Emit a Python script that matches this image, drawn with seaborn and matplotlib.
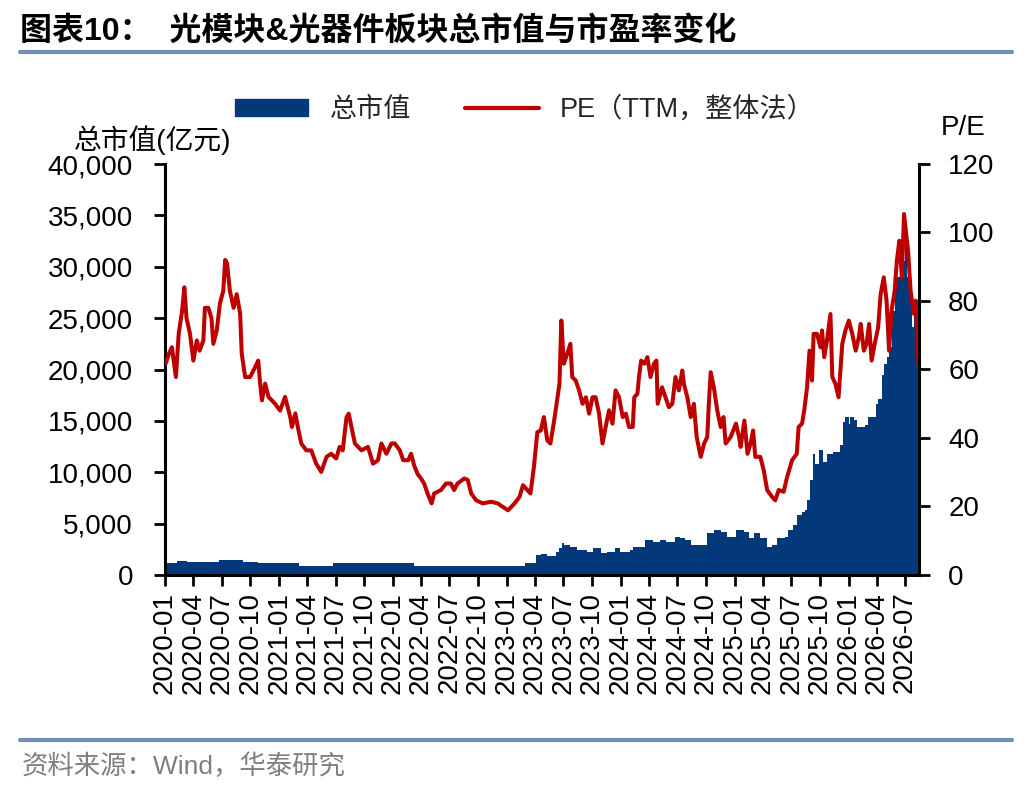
import matplotlib
matplotlib.use("Agg")
import numpy as np
import pandas as pd
import matplotlib.pyplot as plt
import matplotlib.dates as mdates
from matplotlib.patches import Patch
from matplotlib.lines import Line2D
from matplotlib.ticker import MultipleLocator, FuncFormatter
import seaborn as sns

# ---------------- data ----------------
pe_dates = [
    "2020-01-03", "2020-01-14", "2020-01-23", "2020-02-05", "2020-02-14", "2020-02-25", "2020-03-03",
    "2020-03-10", "2020-03-21", "2020-04-01", "2020-04-12", "2020-04-21", "2020-05-03", "2020-05-08",
    "2020-05-19", "2020-05-29", "2020-06-04", "2020-06-15", "2020-06-25", "2020-07-06", "2020-07-12",
    "2020-07-18", "2020-07-27", "2020-08-08", "2020-08-18", "2020-08-29", "2020-09-03", "2020-09-14",
    "2020-09-30", "2020-10-16", "2020-10-26", "2020-11-01", "2020-11-07", "2020-11-17", "2020-11-28",
    "2020-12-19", "2021-01-04", "2021-01-20", "2021-02-06", "2021-02-11", "2021-02-22", "2021-03-02",
    "2021-03-13", "2021-03-29", "2021-04-14", "2021-04-30", "2021-05-16", "2021-06-02", "2021-06-17",
    "2021-07-03", "2021-07-14", "2021-07-24", "2021-08-05", "2021-08-12", "2021-08-21", "2021-09-01",
    "2021-09-22", "2021-10-13", "2021-10-29", "2021-11-14", "2021-11-25", "2021-12-11", "2021-12-27",
    "2022-01-07", "2022-01-23", "2022-02-03", "2022-02-19", "2022-02-28", "2022-03-10", "2022-03-21",
    "2022-04-01", "2022-04-11", "2022-04-22", "2022-05-05", "2022-05-13", "2022-06-04", "2022-06-20",
    "2022-07-06", "2022-07-16", "2022-07-27", "2022-08-18", "2022-08-29", "2022-09-09", "2022-09-25",
    "2022-10-16", "2022-11-12", "2022-12-03", "2022-12-19", "2023-01-05", "2023-01-26", "2023-02-11",
    "2023-02-22", "2023-03-08", "2023-03-18", "2023-03-29", "2023-04-09", "2023-04-20", "2023-04-30",
    "2023-05-11", "2023-05-21", "2023-06-02", "2023-06-13", "2023-06-19", "2023-06-25", "2023-07-03",
    "2023-07-14", "2023-07-24", "2023-07-30", "2023-08-10", "2023-08-21", "2023-09-01", "2023-09-12",
    "2023-09-22", "2023-10-03", "2023-10-13", "2023-10-24", "2023-11-04", "2023-11-14", "2023-11-25",
    "2023-12-06", "2023-12-16", "2023-12-27", "2024-01-08", "2024-01-18", "2024-01-28", "2024-02-09",
    "2024-02-14", "2024-02-24", "2024-02-29", "2024-03-07", "2024-03-18", "2024-03-27", "2024-04-06",
    "2024-04-17", "2024-04-25", "2024-04-29", "2024-05-13", "2024-05-24", "2024-06-04", "2024-06-15",
    "2024-06-25", "2024-07-06", "2024-07-17", "2024-07-22", "2024-08-02", "2024-08-13", "2024-08-23",
    "2024-09-01", "2024-09-14", "2024-09-25", "2024-10-05", "2024-10-10", "2024-10-16", "2024-10-26",
    "2024-11-06", "2024-11-17", "2024-11-26", "2024-12-03", "2024-12-19", "2025-01-05", "2025-01-15",
    "2025-01-20", "2025-02-01", "2025-02-11", "2025-02-21", "2025-03-01", "2025-03-08", "2025-03-24",
    "2025-04-04", "2025-04-15", "2025-05-01", "2025-05-11", "2025-05-22", "2025-06-07", "2025-06-18",
    "2025-07-04", "2025-07-19", "2025-07-25", "2025-08-05", "2025-08-12", "2025-08-21", "2025-08-29",
    "2025-09-06", "2025-09-11", "2025-09-22", "2025-10-03", "2025-10-08", "2025-10-15", "2025-10-24",
    "2025-11-04", "2025-11-10", "2025-11-20", "2025-11-30", "2025-12-06", "2025-12-12", "2025-12-22",
    "2026-01-02", "2026-01-13", "2026-01-24", "2026-02-03", "2026-02-09", "2026-02-19", "2026-02-28",
    "2026-03-08", "2026-03-16", "2026-03-26", "2026-04-06", "2026-04-14", "2026-04-24", "2026-05-03",
    "2026-05-11", "2026-05-19", "2026-05-29", "2026-06-05", "2026-06-13", "2026-06-21", "2026-06-28",
    "2026-07-06", "2026-07-11", "2026-07-19", "2026-07-30", "2026-08-05", "2026-08-13",
]
pe_values = [
    61.7, 64.7, 66.5, 57.8, 70.5, 77.2, 84.0,
    75.0, 70.5, 62.6, 68.5, 65.5, 68.5, 78.0,
    78.0, 75.0, 67.5, 71.4, 79.2, 83.0, 92.0,
    91.0, 83.0, 78.0, 82.0, 76.3, 64.7, 57.8,
    57.8, 60.7, 62.6, 55.9, 51.0, 55.9, 52.0,
    50.0, 48.0, 52.0, 46.0, 43.2, 47.2, 43.2,
    38.4, 36.4, 36.4, 32.5, 30.1, 34.5, 35.4,
    34.0, 37.4, 36.4, 46.0, 47.1, 43.2, 38.4,
    36.4, 37.4, 32.5, 33.5, 38.4, 35.4, 38.4,
    38.4, 36.4, 33.5, 33.5, 35.4, 32.0, 29.5,
    28.2, 26.7, 23.8, 20.9, 23.8, 24.8, 26.7,
    26.7, 24.8, 26.7, 28.2, 27.7, 23.8, 21.8,
    20.9, 21.4, 20.9, 19.9, 18.9, 20.9, 22.8,
    26.2, 24.8, 23.8, 31.5, 41.7, 42.2, 46.1,
    39.3, 38.4, 45.1, 51.9, 55.8, 74.3, 61.7,
    64.6, 67.5, 57.8, 56.8, 53.9, 50.0, 51.9,
    47.1, 51.9, 51.9, 47.1, 38.4, 43.2, 48.1,
    44.2, 53.9, 51.9, 46.1, 47.1, 43.2, 43.2,
    51.9, 52.9, 57.8, 62.6, 61.7, 63.6, 57.8,
    61.7, 62.6, 50.0, 54.8, 51.9, 49.0, 50.0,
    57.8, 53.9, 59.7, 55.8, 51.9, 46.1, 50.0,
    40.3, 34.5, 38.4, 40.3, 50.0, 59.2, 54.8,
    48.1, 43.2, 46.1, 38.4, 40.3, 44.2, 40.3,
    37.4, 45.1, 35.4, 38.4, 42.2, 34.5, 34.5,
    30.6, 24.8, 22.8, 21.8, 24.8, 24.3, 28.6,
    33.5, 35.4, 43.2, 44.2, 48.1, 54.8, 65.5,
    56.8, 70.4, 70.4, 66.5, 71.4, 63.6, 68.5,
    76.2, 57.8, 55.8, 51.9, 59.7, 67.5, 71.4,
    74.3, 70.4, 65.5, 69.4, 73.3, 65.5, 67.5,
    73.3, 62.6, 67.5, 72.3, 82.0, 86.9, 80.1,
    65.5, 77.2, 83.0, 91.8, 97.6, 86.9, 105.4,
    98.6, 94.7, 83.0, 76.2, 80.1, 61.7,
]

cap_dates = [
    "2020-01-02", "2020-02-10", "2020-03-12", "2020-06-22", "2020-09-08", "2020-10-26", "2021-03-07",
    "2021-06-22", "2022-03-10", "2023-02-27", "2023-04-04", "2023-04-20", "2023-05-11", "2023-06-07",
    "2023-06-17", "2023-06-27", "2023-07-05", "2023-07-24", "2023-08-15", "2023-09-16", "2023-10-06",
    "2023-10-29", "2023-11-19", "2023-12-15", "2023-12-31", "2024-02-01", "2024-02-10", "2024-03-18",
    "2024-04-13", "2024-05-05", "2024-05-26", "2024-06-25", "2024-07-11", "2024-07-27", "2024-08-13",
    "2024-10-05", "2024-10-25", "2024-11-17", "2024-12-08", "2025-01-05", "2025-01-30", "2025-02-15",
    "2025-03-03", "2025-03-24", "2025-04-15", "2025-05-01", "2025-05-17", "2025-06-12", "2025-06-22",
    "2025-07-08", "2025-07-19", "2025-08-05", "2025-08-15", "2025-08-21", "2025-08-31", "2025-09-08",
    "2025-09-16", "2025-09-27", "2025-10-12", "2025-10-23", "2025-11-13", "2025-12-06", "2025-12-14",
    "2025-12-22", "2026-01-02", "2026-01-07", "2026-01-18", "2026-01-28", "2026-02-24", "2026-03-06",
    "2026-03-30", "2026-04-06", "2026-04-17", "2026-04-24", "2026-05-03", "2026-05-11", "2026-05-19",
    "2026-05-24", "2026-05-29", "2026-06-06", "2026-06-14", "2026-06-22", "2026-07-01", "2026-07-08",
    "2026-07-14", "2026-07-22", "2026-07-30", "2026-08-07", "2026-08-14",
]
cap_values = [
    1140, 1390, 1235, 1460, 1235, 1140, 875,
    1140, 875, 1190, 1945, 2040, 1850, 2270,
    2600, 3080, 2900, 2750, 2430, 2260, 2590,
    2100, 2260, 2590, 2260, 2430, 2750, 3400,
    3240, 3450, 3240, 3720, 3560, 3400, 2910,
    4050, 4370, 4210, 3720, 4370, 4210, 3560,
    4050, 3560, 2750, 2910, 3560, 3720, 4370,
    4860, 5830, 6150, 6310, 7280, 9220, 11800,
    10850, 12140, 11000, 11800, 11970, 12620, 14890,
    15370, 14730, 15370, 15050, 14400, 14570, 15370,
    16670, 17160, 19420, 20560, 21200, 22170, 25080,
    25730, 28320, 28970, 29620, 30590, 32200, 28970,
    27350, 24110, 25730, 24760, 24760,
]

legend_labels = ["总市值", "PE（TTM，整体法）"]
title_text = "图表10：  光模块&光器件板块总市值与市盈率变化"
left_axis_title = "总市值(亿元)"
right_axis_title = "P/E"
source_text = "资料来源：Wind，华泰研究"

BLUE = "#03387A"
RED = "#BE0000"
RULE = "#6F8EB8"

# ---------------- style ----------------
sns.set_theme(style="white")
FONTS = ["Liberation Sans", "Noto Sans CJK SC", "DejaVu Sans"]
plt.rcParams["font.family"] = FONTS
plt.rcParams["axes.unicode_minus"] = False

W, H = 1036, 792
fig = plt.figure(figsize=(W / 100, H / 100), dpi=100)
fig.patch.set_facecolor("white")

L, R, T, B = 165, 919, 164, 575
ax = fig.add_axes([L / W, 1 - B / H, (R - L) / W, (B - T) / H])
ax2 = ax.twinx()

pe_df = pd.DataFrame({"date": pd.to_datetime(pe_dates), "pe": pe_values})
cap_df = pd.DataFrame({"date": pd.to_datetime(cap_dates), "cap": cap_values})

ax.fill_between(cap_df["date"], 0, cap_df["cap"], step="post", color=BLUE, linewidth=0)
sns.lineplot(data=pe_df, x="date", y="pe", ax=ax2, color=RED, linewidth=2.9)

ax.set_xlim(pd.Timestamp("2020-01-01"), pd.Timestamp("2026-08-15"))
ax.set_ylim(0, 40000)
ax2.set_ylim(0, 120)
ax.yaxis.set_major_locator(MultipleLocator(5000))
ax.yaxis.set_major_formatter(FuncFormatter(lambda v, p: f"{int(v):,}"))
ax2.yaxis.set_major_locator(MultipleLocator(20))
ax.xaxis.set_major_locator(mdates.MonthLocator(bymonth=[1, 4, 7, 10]))
ax.xaxis.set_major_formatter(mdates.DateFormatter("%Y-%m"))

for a in (ax, ax2):
    a.set_xlabel("")
    a.set_ylabel("")
    a.grid(False)
    a.set_facecolor("none")
    for s in a.spines.values():
        s.set_visible(False)

ax.spines["left"].set_visible(True)
ax.spines["bottom"].set_visible(True)
ax2.spines["right"].set_visible(True)
for s in (ax.spines["left"], ax.spines["bottom"], ax2.spines["right"]):
    s.set_color("black")
    s.set_linewidth(2.2)

ax.tick_params(axis="x", bottom=True, direction="out", length=8, width=2, labelsize=20,
               labelrotation=90, pad=4, colors="black")
ax.tick_params(axis="y", left=True, direction="out", length=8, width=2, labelsize=20, pad=15,
               colors="black")
ax2.tick_params(axis="y", right=True, left=False, direction="out", length=8, width=2,
                labelsize=20, pad=13, colors="black")

# ---------------- texts ----------------
fig.text(20 / W, 1 - 31 / H, title_text, fontsize=23, fontweight="bold",
         family=FONTS, va="center", ha="left", color="black")
fig.add_artist(Line2D([20 / W, 1012 / W], [1 - 52 / H, 1 - 52 / H], color=RULE, lw=3))
fig.add_artist(Line2D([20 / W, 1012 / W], [1 - 740 / H, 1 - 740 / H], color=RULE, lw=3))
fig.text(22 / W, 1 - 766 / H, source_text, fontsize=19, color="#7F7F7F",
         family=FONTS, va="center", ha="left")

fig.text(153 / W, 1 - 140 / H, left_axis_title, fontsize=20, family=FONTS,
         ha="center", va="center", color="black")
fig.text(963 / W, 1 - 128 / H, right_axis_title, fontsize=20, family=FONTS,
         ha="center", va="center", color="black")

handles = [Patch(facecolor=BLUE, edgecolor=BLUE, label=legend_labels[0]),
           Line2D([], [], color=RED, lw=3, label=legend_labels[1])]
fig.legend(handles=handles, loc="center", bbox_to_anchor=(525 / W, 1 - 110 / H), ncol=2,
           frameon=False, handlelength=2.7, handleheight=0.6,
           columnspacing=2.0, handletextpad=0.8, prop={"family": FONTS, "size": 19.5})

fig.savefig("out.png", dpi=100, facecolor="white")
